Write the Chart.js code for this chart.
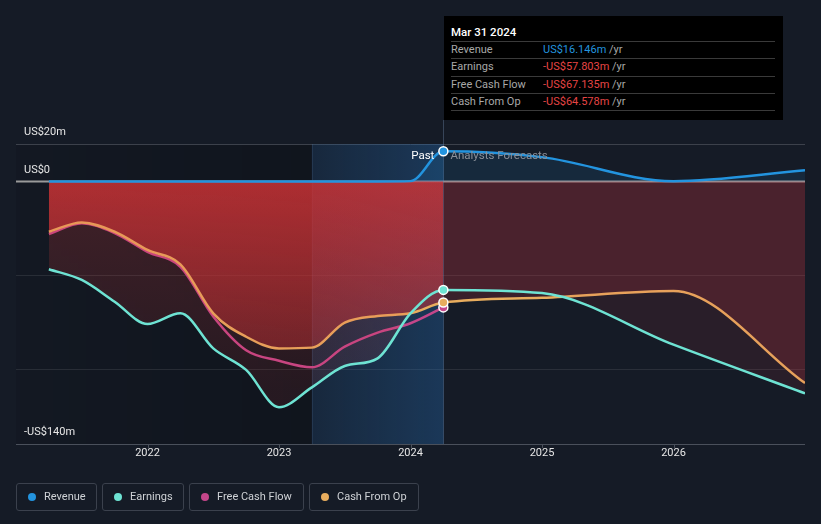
<!DOCTYPE html>
<html>
<head>
<meta charset="utf-8">
<script src="https://cdn.jsdelivr.net/npm/chart.js@4.4.1/dist/chart.umd.min.js"></script>
<style>
  body { margin: 0; background: #151b26; font-family: Roboto, "Noto Sans", sans-serif; }
  #wrap { position: relative; width: 821px; height: 524px; overflow: hidden; }
  #chart { position: absolute; left: 0; top: 0; }
  .tip { position: absolute; left: 444px; top: 16px; width: 339px; height: 104px; background: #000; font-size: 11px; }
  .tip .title { position: absolute; left: 7px; top: 9px; color: #fff; font-weight: 500; font-size: 11.5px; line-height: 14px; }
  .tip .row { position: absolute; left: 7px; width: 324px; height: 17px; border-top: 1px solid #3a3a3a; line-height: 16px; color: #a8a8a8; }
  .tip .row .v { position: absolute; left: 92px; top: 0; }
  .tip .rule { position: absolute; left: 7px; width: 324px; top: 94px; border-top: 1px solid #3a3a3a; }
  .blue { color: #2394df; }
  .red { color: #e64545; }
  .unit { color: #a8a8a8; }
  .legend { position: absolute; top: 483px; left: 16px; display: flex; gap: 5px; }
  .legend .item { box-sizing: border-box; height: 28px; border: 1px solid #3b414d; border-radius: 3px; color: #cfd2d6; font-size: 11px; line-height: 26px; padding-left: 27px; position: relative; }
  .legend .item i { position: absolute; left: 11px; top: 9px; width: 8px; height: 8px; border-radius: 50%; }
</style>
</head>
<body>
<div id="wrap">
  <canvas id="chart" width="821" height="524"></canvas>
  <div class="tip">
    <div class="title">Mar 31 2024</div>
    <div class="row" style="top:25px">Revenue<span class="v"><span class="blue">US$16.146m</span> <span class="unit">/yr</span></span></div>
    <div class="row" style="top:42px">Earnings<span class="v"><span class="red">-US$57.803m</span> <span class="unit">/yr</span></span></div>
    <div class="row" style="top:60px">Free Cash Flow<span class="v"><span class="red">-US$67.135m</span> <span class="unit">/yr</span></span></div>
    <div class="row" style="top:77px">Cash From Op<span class="v"><span class="red">-US$64.578m</span> <span class="unit">/yr</span></span></div>
    <div class="rule"></div>
  </div>
  <div class="legend">
    <div class="item" style="width:81px"><i style="background:#2394df"></i>Revenue</div>
    <div class="item" style="width:82px"><i style="background:#6ee3d3"></i>Earnings</div>
    <div class="item" style="width:115px"><i style="background:#c4468a"></i>Free Cash Flow</div>
    <div class="item" style="width:110px"><i style="background:#e8ad5e"></i>Cash From Op</div>
  </div>
</div>
<script>
// dates as decimal years; last past point is the Mar 31 2024 report
const pastDates = [2021.25, 2021.5, 2021.75, 2022.0, 2022.25, 2022.5, 2022.75, 2023.0, 2023.25, 2023.5, 2023.75, 2024.0, 2024.25];
const forecastDates = [2024.25, 2025.0, 2026.0, 2027.0];

// US$ millions
const revenuePast = [0, 0, 0, 0, 0, 0, 0, 0, 0, 0, 0, 0.2, 16.146];
const revenueForecast = [16.146, 13.0, 0.2, 6.0];
const earningsPast = [-46.8, -52.5, -64.1, -76.0, -70.3, -89.0, -100.5, -120.4, -109.8, -98.4, -94.3, -70.3, -57.803];
const earningsForecast = [-57.803, -59.5, -87.0, -113.0];
const fcfPast = [-28.0, -22.3, -27.5, -37.5, -45.5, -72.0, -90.0, -95.6, -99.1, -88.1, -80.6, -75.6, -67.135];
const cfoPast = [-26.8, -21.8, -26.8, -36.5, -44.2, -70.3, -82.8, -89.0, -88.6, -75.3, -71.7, -70.3, -64.578];
const cfoForecast = [-64.578, -62.0, -58.4, -107.5];

const yearTicks = [2022, 2023, 2024, 2025, 2026];
const yLabels = [[20, 'US$20m'], [0, 'US$0'], [-140, '-US$140m']];
const gridValues = [-50, -100];
const forecastStart = 2024.25;
const highlightStart = 2023.25;

// joins past and forecast into one x/y list
function series(past, forecast) {
  let pts = [];
  past.forEach(function (v, i) { pts.push({x: pastDates[i], y: v}); });
  if (forecast) {
    forecast.slice(1).forEach(function (v, i) { pts.push({x: forecastDates[i + 1], y: v}); });
  }
  return pts;
}

function marker(c) {
  return c.parsed && c.parsed.x === forecastStart ? 4.5 : 0;
}

function redGradient(top, bottom) {
  return function (context) {
    const chart = context.chart;
    if (!chart.chartArea) return top;
    const y = chart.scales.y;
    const g = chart.ctx.createLinearGradient(0, y.getPixelForValue(0), 0, y.getPixelForValue(-110));
    g.addColorStop(0, top);
    g.addColorStop(1, bottom);
    return g;
  };
}

function forecastFill(color) {
  return function (c) { return c.p0.parsed.x >= forecastStart ? color : undefined; };
}

const backdrop = {
  id: 'backdrop',
  beforeDraw(chart) {
    const {ctx, chartArea: a, scales: {x, y}} = chart;
    const hx = x.getPixelForValue(highlightStart);
    const fx = x.getPixelForValue(forecastStart);
    ctx.save();
    // darker past area
    let g = ctx.createLinearGradient(a.left, 0, hx, 0);
    g.addColorStop(0, 'rgba(0,0,0,0.08)');
    g.addColorStop(1, 'rgba(0,0,0,0.22)');
    ctx.fillStyle = g;
    ctx.fillRect(a.left, a.top, hx - a.left, a.bottom - a.top);
    // grid
    ctx.lineWidth = 1;
    ctx.strokeStyle = '#3c414b';
    ctx.beginPath();
    ctx.moveTo(a.left, Math.round(y.getPixelForValue(20)) + 0.5);
    ctx.lineTo(a.right, Math.round(y.getPixelForValue(20)) + 0.5);
    ctx.stroke();
    ctx.strokeStyle = 'rgba(255,255,255,0.09)';
    gridValues.forEach(function (v) {
      const py = Math.round(y.getPixelForValue(v)) + 0.5;
      ctx.beginPath(); ctx.moveTo(a.left, py); ctx.lineTo(a.right, py); ctx.stroke();
    });
    ctx.strokeStyle = '#4a505b';
    ctx.beginPath();
    ctx.moveTo(a.left, a.bottom + 0.5); ctx.lineTo(a.right, a.bottom + 0.5);
    yearTicks.forEach(function (t) {
      const px = Math.round(x.getPixelForValue(t)) + 0.5;
      ctx.moveTo(px, a.bottom); ctx.lineTo(px, a.bottom + 4);
    });
    ctx.stroke();
    // zero line
    ctx.strokeStyle = '#9a9a9a';
    ctx.lineWidth = 2;
    ctx.beginPath();
    ctx.moveTo(a.left, y.getPixelForValue(0)); ctx.lineTo(a.right, y.getPixelForValue(0));
    ctx.stroke();
    // divider
    ctx.lineWidth = 1;
    ctx.strokeStyle = 'rgba(120,150,185,0.35)';
    ctx.beginPath();
    ctx.moveTo(Math.round(fx) + 0.5, 120); ctx.lineTo(Math.round(fx) + 0.5, a.bottom);
    ctx.stroke();
    ctx.strokeStyle = 'rgba(120,150,185,0.15)';
    ctx.beginPath();
    ctx.moveTo(Math.round(hx) + 0.5, a.top); ctx.lineTo(Math.round(hx) + 0.5, a.bottom);
    ctx.stroke();
    ctx.restore();
  },
  beforeDatasetsDraw(chart) {
    const {ctx, chartArea: a, scales: {x}} = chart;
    const hx = x.getPixelForValue(highlightStart);
    const fx = x.getPixelForValue(forecastStart);
    ctx.save();
    const g = ctx.createLinearGradient(hx, 0, fx, 0);
    g.addColorStop(0, 'rgba(40,118,195,0.15)');
    g.addColorStop(1, 'rgba(40,118,195,0.32)');
    ctx.fillStyle = g;
    ctx.fillRect(hx, a.top, fx - hx, a.bottom - a.top);
    ctx.restore();
  },
  afterDraw(chart) {
    const {ctx, chartArea: a, scales: {x, y}} = chart;
    const fx = x.getPixelForValue(forecastStart);
    ctx.save();
    ctx.font = '11px Roboto';
    ctx.textBaseline = 'middle';
    ctx.fillStyle = '#e6e6e6';
    ctx.textAlign = 'left';
    yLabels.forEach(function (l) {
      ctx.fillText(l[1], 24, y.getPixelForValue(l[0]) - 11.5);
    });
    ctx.textAlign = 'center';
    yearTicks.forEach(function (t) {
      ctx.fillText(String(t), x.getPixelForValue(t), a.bottom + 9);
    });
    ctx.font = '11.5px Roboto';
    ctx.textAlign = 'right';
    ctx.fillStyle = '#ffffff';
    ctx.fillText('Past', fx - 9, 156);
    ctx.textAlign = 'left';
    ctx.fillStyle = '#8b9099';
    ctx.fillText('Analysts Forecasts', fx + 7, 156);
    ctx.restore();
  }
};

const common = {
  cubicInterpolationMode: 'monotone',
  borderWidth: 2.5,
  pointRadius: marker,
  pointHoverRadius: 0,
  pointBorderColor: '#ffffff',
  pointBorderWidth: 1.5
};

new Chart(document.getElementById('chart'), {
  type: 'line',
  data: {
    datasets: [
      Object.assign({}, common, {
        label: 'Revenue',
        data: series(revenuePast, revenueForecast),
        borderColor: '#2394df',
        pointBackgroundColor: '#2394df',
        backgroundColor: 'rgba(35,148,223,0.12)',
        fill: 'origin'
      }),
      Object.assign({}, common, {
        label: 'Earnings',
        data: series(earningsPast, earningsForecast),
        borderColor: '#6ee3d3',
        pointBackgroundColor: '#6ee3d3',
        backgroundColor: redGradient('rgba(230,62,60,0.22)', 'rgba(230,62,60,0.1)'),
        segment: { backgroundColor: forecastFill('rgba(225,60,65,0.1)') },
        fill: 'origin'
      }),
      Object.assign({}, common, {
        label: 'Cash From Op',
        data: series(cfoPast, cfoForecast),
        borderColor: '#e8ad5e',
        pointBackgroundColor: '#e8ad5e',
        backgroundColor: redGradient('rgba(205,48,52,0.75)', 'rgba(205,48,52,0.35)'),
        segment: { backgroundColor: forecastFill('rgba(205,55,65,0.2)') },
        fill: 'origin'
      }),
      Object.assign({}, common, {
        label: 'Free Cash Flow',
        data: series(fcfPast),
        borderColor: '#c4468a',
        pointBackgroundColor: '#c4468a',
        fill: false
      })
    ]
  },
  options: {
    responsive: false,
    animation: false,
    events: [],
    layout: { padding: { left: 16, right: 16, top: 144, bottom: 80 } },
    scales: {
      x: { type: 'linear', min: 2021, max: 2027, display: false },
      y: { min: -140, max: 20, display: false }
    },
    plugins: { legend: { display: false }, tooltip: { enabled: false } }
  },
  plugins: [backdrop]
});
</script>
</body>
</html>
